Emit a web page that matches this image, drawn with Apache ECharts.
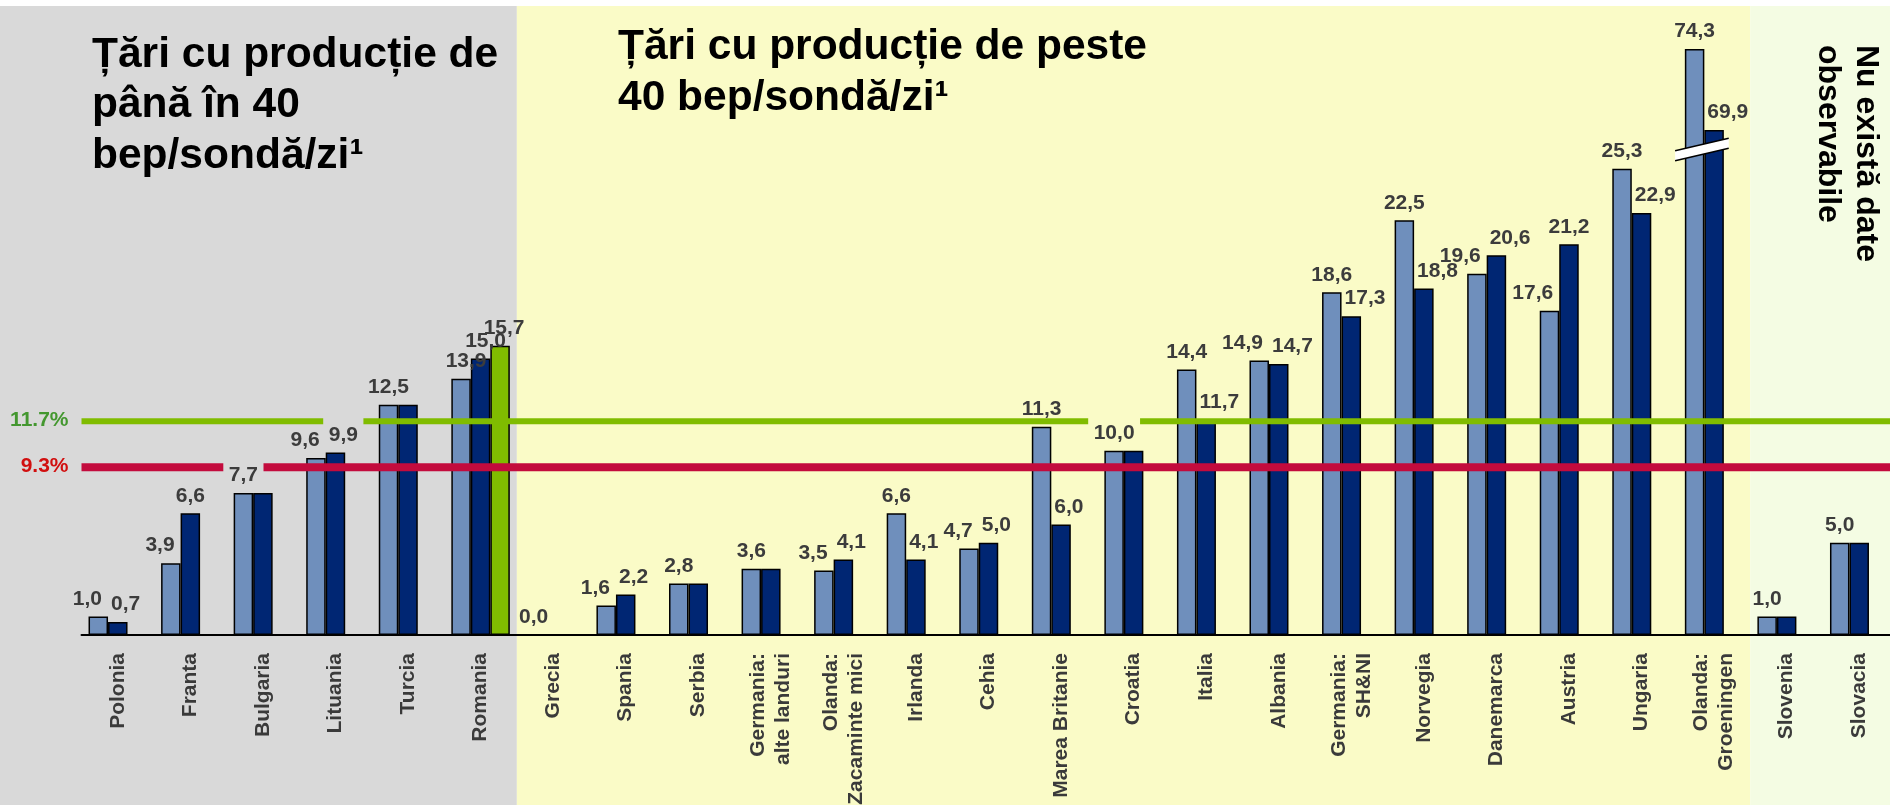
<!DOCTYPE html>
<html>
<head>
<meta charset="utf-8">
<script src="https://cdn.jsdelivr.net/npm/echarts@6/dist/echarts.min.js"></script>
<style>html,body{margin:0;padding:0;background:#fff}#c{width:1890px;height:805px}</style>
</head>
<body>
<div id="c"></div>
<script>
// ---------------- data ----------------
const categories = ['Polonia', 'Franta', 'Bulgaria', 'Lituania', 'Turcia', 'Romania', 'Grecia', 'Spania', 'Serbia',
  'Germania:\nalte landuri', 'Olanda:\nZacaminte mici', 'Irlanda', 'Cehia', 'Marea Britanie', 'Croatia', 'Italia',
  'Albania', 'Germania:\nSH&NI', 'Norvegia', 'Danemarca', 'Austria', 'Ungaria', 'Olanda:\nGroeningen', 'Slovenia', 'Slovacia'];
const seriesA = [1.0, 3.9, 7.7, 9.6, 12.5, 13.9, 0.0, 1.6, 2.8, 3.6, 3.5, 6.6, 4.7, 11.3, 10.0, 14.4, 14.9, 18.6, 22.5, 19.6, 17.6, 25.3, 74.3, 1.0, 5.0];
const seriesB = [0.7, 6.6, 7.7, 9.9, 12.5, 15.0, 0.0, 2.2, 2.8, 3.6, 4.1, 4.1, 5.0, 6.0, 10.0, 11.7, 14.7, 17.3, 18.8, 20.6, 21.2, 22.9, 69.9, 1.0, 5.0];
const seriesC = [null, null, null, null, null, 15.7, null, null, null, null, null, null, null, null, null, null, null, null, null, null, null, null, null, null, null];
const refLevels = [11.6, 9.1];
const refTexts = ['11.7%', '9.3%'];
const axisBreak = { start: 26.5, end: 69.0 };
const yMax = 76.5;
const sectionStarts = ['Polonia', 'Grecia', 'Slovenia'];
const titleLeft = 'Țări cu producție de\npână în 40\nbep/sondă/zi¹';
const titleMid = 'Țări cu producție de peste\n40 bep/sondă/zi¹';
const noteRight = 'Nu există date\nobservabile';

// ---------------- styles ----------------
const FONT = '"Liberation Sans", Arial, Helvetica, sans-serif';
const LFONT = FONT;
const BW = 19.5;
const LABEL_FS = 21;
const LABEL_DIST = 7;
const DIGIT_H = 0.716 * LABEL_FS;
const BASE_OFF = LABEL_DIST + LABEL_FS / 2 - 0.346 * LABEL_FS;
const barColors = ['#6F8FBC', '#002673', '#80BC00'];
const sectionColors = ['#D9D9D9', '#FAFBC7', '#F4FCE3'];
const refColors = ['#80BC00', '#C30B3D'];
const refTextColors = ['#43972F', '#D10F0F'];
const refWidths = [6, 8];

const values = [seriesA, seriesB, seriesC];
const ctx = document.createElement('canvas').getContext('2d');
ctx.font = 'bold ' + LABEL_FS + 'px ' + LFONT;
const fmt = v => v.toFixed(1).replace('.', ',');
const tw = v => ctx.measureText(fmt(v)).width;

function labelInfo(i, s) {
  const a = seriesA[i], b = seriesB[i], e = seriesC[i];
  if (s === 2) return { show: e != null, dx: 4 };
  if (e != null) return { show: true, dx: 5 };
  if (a === b) return s === 0 ? { show: true, dx: 0 } : { show: false, dx: 0 };
  const collide = Math.abs(a - b) < 1.05;
  if (s === 0) return { show: true, dx: (collide || a < b) ? BW / 2 - tw(a) / 2 - 6 : 0 };
  return { show: true, dx: (collide || b < a) ? -BW / 2 + tw(b) / 2 + 3 : 0 };
}

const barSeries = values.map((arr, s) => ({
  type: 'bar',
  barWidth: BW,
  barGap: '0%',
  z: 2,
  animation: false,
  itemStyle: { color: barColors[s], borderColor: '#000', borderWidth: 1.5 },
  label: {
    show: true, position: 'top', distance: LABEL_DIST,
    fontFamily: LFONT, fontSize: LABEL_FS, fontWeight: 'bold', color: '#3C3C3C',
    formatter: p => fmt(p.value)
  },
  data: arr.map((v, i) => {
    if (v == null) return '-';
    const li = labelInfo(i, s);
    return { value: v, label: { show: li.show, offset: [li.dx, 0] } };
  })
}));

const refSeries = {
  type: 'custom',
  z: 3,
  clip: false,
  silent: true,
  animation: false,
  data: refLevels.map(v => [0, v]),
  encode: { x: 0, y: 1 },
  renderItem(params, api) {
    const k = params.dataIndex;
    const cs = params.coordSys;
    const y = api.coord([0, refLevels[k]])[1];
    const lw = refWidths[k];
    const gaps = [];
    for (let i = 0; i < categories.length; i++) {
      const c = api.coord([i, 0])[0];
      for (let s = 0; s < 3; s++) {
        const v = values[s][i];
        if (v == null) continue;
        const li = labelInfo(i, s);
        if (!li.show) continue;
        const barTop = api.coord([i, v])[1];
        const base = barTop - BASE_OFF;
        const top = base - DIGIT_H;
        if (base > y - lw / 2 && top < y + lw / 2 + 6) {
          const cx = c + (s - 1) * BW + li.dx;
          const w = tw(v);
          gaps.push([cx - w / 2 - 5.5, cx + w / 2 + 5.5]);
        }
      }
    }
    gaps.sort((p, q) => p[0] - q[0]);
    const children = [];
    let x = cs.x;
    const xEnd = cs.x + cs.width;
    gaps.concat([[xEnd, xEnd]]).forEach(g => {
      if (g[0] > x) children.push({ type: 'rect', shape: { x: x, y: y - lw / 2, width: g[0] - x, height: lw }, style: { fill: refColors[k] } });
      x = Math.max(x, g[1]);
    });
    children.push({
      type: 'text',
      style: { text: refTexts[k], x: cs.x - 13, y: y - 1.5, align: 'right', verticalAlign: 'middle',
        fill: refTextColors[k], fontFamily: FONT, fontSize: 21, fontWeight: 'bold' }
    });
    return { type: 'group', children };
  }
};

const breakSeries = {
  type: 'custom',
  z: 4,
  clip: false,
  silent: true,
  animation: false,
  data: [[categories.indexOf('Olanda:\nGroeningen'), axisBreak.start]],
  encode: { x: 0, y: 1 },
  renderItem(params, api) {
    const p = api.coord([api.value(0), api.value(1)]);
    const c = p[0], y = p[1];
    const xl = c - 2 * BW, xr = c + 0.75 * BW;
    const slope = 0.2345, t = 10;
    const yl = y + (c - xl) * slope, yr = y - (xr - c) * slope;
    return {
      type: 'group',
      children: [
        { type: 'polygon', shape: { points: [[xl, yl - t / 2], [xr, yr - t / 2], [xr, yr + t / 2], [xl, yl + t / 2]] }, style: { fill: '#fff' } },
        { type: 'line', shape: { x1: xl, y1: yl - t / 2, x2: xr, y2: yr - t / 2 }, style: { stroke: '#000', lineWidth: 1.5 } },
        { type: 'line', shape: { x1: xl, y1: yl + t / 2, x2: xr, y2: yr + t / 2 }, style: { stroke: '#000', lineWidth: 1.5 } }
      ]
    };
  }
};

const chart = echarts.init(document.getElementById('c'), null, { renderer: 'canvas', width: 1890, height: 805 });
chart.setOption({
  animation: false,
  backgroundColor: '#fff',
  grid: { left: 81.5, right: -5.5, top: 8.4, bottom: 170, containLabel: false, outerBoundsMode: 'none' },
  xAxis: {
    type: 'category',
    data: categories,
    z: 5,
    axisLine: { lineStyle: { color: '#000', width: 2 } },
    axisTick: { show: false },
    axisLabel: { interval: 0, rotate: 90, margin: 18, fontFamily: FONT, fontSize: 21, fontWeight: 'bold', color: '#3A3A3A', lineHeight: 25 }
  },
  yAxis: {
    type: 'value', min: 0, max: yMax, show: false,
    splitLine: { show: false },
    breaks: [{ start: axisBreak.start, end: axisBreak.end, gap: 0 }],
    breakArea: { show: false }
  },
  series: barSeries.concat([refSeries, breakSeries])
});

// backgrounds per section, from category boundaries
const px = i => chart.convertToPixel({ xAxisIndex: 0 }, i);
const starts = sectionStarts.map(n => categories.indexOf(n));
const edges = starts.map((idx, k) => k === 0 ? 0 : (px(idx - 1) + px(idx)) / 2);
edges.push(1890);
const graphics = starts.map((idx, k) => ({
  type: 'rect', z: 0, silent: true,
  shape: { x: edges[k], y: 6, width: edges[k + 1] - edges[k], height: 799 },
  style: { fill: sectionColors[k] }
}));
graphics.push(
  { type: 'text', z: 1, x: 92, y: 30, silent: true,
    style: { text: titleLeft, fontFamily: FONT, fontSize: 42.5, fontWeight: 'bold', lineHeight: 50.5, fill: '#000', align: 'left', verticalAlign: 'top' } },
  { type: 'text', z: 1, x: 618, y: 22.5, silent: true,
    style: { text: titleMid, fontFamily: FONT, fontSize: 42.5, fontWeight: 'bold', lineHeight: 50.5, fill: '#000', align: 'left', verticalAlign: 'top' } },
  { type: 'text', z: 1, x: 1885.5, y: 45, rotation: -Math.PI / 2, silent: true,
    style: { text: noteRight, fontFamily: FONT, fontSize: 32, fontWeight: 'bold', lineHeight: 38.5, fill: '#000', align: 'left', verticalAlign: 'top' } }
);
chart.setOption({ graphic: graphics });
</script>
</body>
</html>
